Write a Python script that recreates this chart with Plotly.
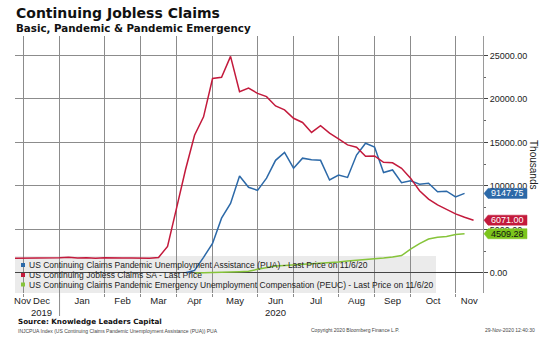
import pandas as pd
import plotly.graph_objects as go

# ---------------- data (thousands) ----------------
start_week = "2019-11-22"      # first weekly point (Friday)
end_week = "2020-11-13"
weeks = pd.date_range(start_week, end_week, freq="7D")

# US Continuing Jobless Claims SA (Nov 22 2019 .. Nov 13 2020)
jobless_sa = [1690, 1700, 1667, 1722, 1728, 1754, 1803, 1731, 1747, 1703, 1751,
              1698, 1726, 1729, 1703, 1702, 1784,
              3059, 7450,
              11900, 15830, 17950, 22350,
              22500, 24900, 20840, 21250, 20650,
              20270, 19200, 18750, 17780,
              17300, 16160, 16930, 16070, 15420,
              14720, 14460, 13420, 13450,
              12720, 12670, 12030, 10900,
              9450, 8500, 7820, 7320, 6800,
              6400, 6071.00]

# PUA (Apr 3 2020 .. Nov 6 2020)
pua_start = "2020-04-03"
pua = [20, 300, 1800, 3400,
       6300, 8000, 11150, 9850, 9500,
       10900, 12950, 13870, 12050,
       13200, 13030, 12950, 10690, 11260,
       10980, 13560, 14910, 14480,
       11550, 11840, 10380, 10610,
       10200, 10310, 9340, 9400, 8740,
       9147.75]

# PEUC (Apr 10 2020 .. Nov 6 2020)
peuc_start = "2020-04-10"
peuc = [10, 20, 50,
        80, 110, 150, 200, 420,
        620, 800, 870, 930,
        1000, 1060, 1130, 1190, 1270,
        1380, 1450, 1540, 1640,
        1720, 1830, 2000, 2750,
        3380, 3900, 4100, 4200, 4430,
        4509.28]

names = ["US Continuing Claims Pandemic Unemployment Assistance (PUA) - Last Price on 11/6/20",
         "US Continuing Jobless Claims SA - Last Price",
         "US Continuing Claims Pandemic Emergency Unemployment Compensation (PEUC) - Last Price on 11/6/20"]
y_ticks = [0, 5000, 10000, 15000, 20000, 25000]

BLUE, RED, GREEN = "#2c69a8", "#c31a3c", "#86c43a"
LBL_GREEN = "#7cc51c"

t0 = pd.Timestamp(start_week)


def week_index(dates):
    return [(pd.Timestamp(d) - t0).days / 7 for d in dates]


x_red = week_index(weeks)
x_pua = week_index(pd.date_range(pua_start, periods=len(pua), freq="7D"))
x_peuc = week_index(pd.date_range(peuc_start, periods=len(peuc), freq="7D"))

# month boundaries: last weekly point of each month
wk = pd.Series(weeks)
last_in_month = wk.groupby([wk.dt.year, wk.dt.month]).max()
bounds = week_index(last_in_month.iloc[:-1])
x_range = [0.05, 52.05]
edges = bounds + [x_range[1]]
label_pos = [bounds[0] - 0.12] + [(edges[i] + edges[i + 1]) / 2 for i in range(len(bounds))]
months = list(pd.Series(last_in_month.values).dt.strftime("%b"))
years = list(pd.Series(last_in_month.values).dt.year)
label_text = []
for i, m in enumerate(months):
    if i == 1 or m == "Jun":
        label_text.append(m + "<br>" + str(years[i]))
    else:
        label_text.append(m)
year_break = [bounds[i] for i in range(len(bounds)) if months[i] == "Dec"][0]

fig = go.Figure()
fig.add_trace(go.Scatter(x=x_pua, y=pua, mode="lines", line=dict(color=BLUE, width=1.5),
                         showlegend=False, hoverinfo="skip"))
fig.add_trace(go.Scatter(x=x_red, y=jobless_sa, mode="lines", line=dict(color=RED, width=1.5),
                         showlegend=False, hoverinfo="skip"))
fig.add_trace(go.Scatter(x=x_peuc, y=peuc, mode="lines", line=dict(color=GREEN, width=1.5),
                         showlegend=False, hoverinfo="skip"))

PLOT_T, PLOT_B, PLOT_L, PLOT_R = 36, 293, 15, 483
PH = PLOT_B - PLOT_T
PW = PLOT_R - PLOT_L


def py(pix):
    return (PLOT_B - pix) / PH


def px(pix):
    return (pix - PLOT_L) / PW


shapes = []
# legend background box (below grid & traces)
shapes.append(dict(type="rect", xref="paper", yref="paper", x0=0, x1=px(436), y0=0, y1=py(256),
                   fillcolor="#ebebeb", line=dict(width=0), layer="below"))
# year separator tick
shapes.append(dict(type="line", xref="x", yref="paper", x0=year_break, x1=year_break,
                   y0=0, y1=py(316), line=dict(color="#8c8c8c", width=1)))

annotations = []
# titles
annotations.append(dict(text="<b>Continuing Jobless Claims</b>", xref="paper", yref="paper",
                        x=px(14), y=py(13), xanchor="left", yanchor="middle", showarrow=False,
                        font=dict(family="DejaVu Sans", size=14, color="#111")))
annotations.append(dict(text="<b>Basic, Pandemic & Pandemic Emergency</b>", xref="paper", yref="paper",
                        x=px(14), y=py(28), xanchor="left", yanchor="middle", showarrow=False,
                        font=dict(family="DejaVu Sans", size=10.3, color="#111")))
# legend rows
legend_rows = [265, 275, 284.5]
for name, col, rowy in zip(names, [BLUE, RED, GREEN], legend_rows):
    shapes.append(dict(type="rect", xref="paper", yref="paper", xsizemode="pixel", ysizemode="pixel",
                       xanchor=0, yanchor=py(rowy), x0=6, x1=10, y0=-2, y1=2,
                       fillcolor=col, line=dict(width=0)))
    annotations.append(dict(text=name, xref="paper", yref="paper", x=px(27), y=py(rowy),
                            xanchor="left", yanchor="middle", showarrow=False,
                            font=dict(family="Liberation Sans", size=8.5, color="#222")))

# last value labels
for val, col, tcol in [(pua[-1], BLUE, "white"), (jobless_sa[-1], RED, "white"),
                       (peuc[-1], LBL_GREEN, "#111")]:
    shapes.append(dict(type="path", xref="paper", yref="y", xsizemode="pixel", ysizemode="pixel",
                       xanchor=1, yanchor=val, path="M 1 0 L 5 5 L 44 5 L 44 -5 L 5 -5 Z",
                       fillcolor=col, line=dict(color=col, width=0.5), layer="above"))
    annotations.append(dict(text="%.2f" % val, xref="paper", yref="y", x=1, y=val, xshift=24,
                            xanchor="center", yanchor="middle", showarrow=False,
                            font=dict(family="Liberation Sans", size=9, color=tcol)))

# axis title
annotations.append(dict(text="Thousands", xref="paper", yref="paper", x=px(534), y=py(164),
                        xanchor="center", yanchor="middle", textangle=90, showarrow=False,
                        font=dict(family="Liberation Sans", size=10, color="#222")))
# footer
annotations.append(dict(text="<b>Source: Knowledge Leaders Capital</b>", xref="paper", yref="paper",
                        x=px(16), y=py(321), xanchor="left", yanchor="middle", showarrow=False,
                        font=dict(family="DejaVu Sans", size=7.2, color="#111")))
annotations.append(dict(text="INJCPUA Index (US Continuing Claims Pandemic Unemployment Assistance (PUA)) PUA",
                        xref="paper", yref="paper", x=px(16), y=py(330.5), xanchor="left",
                        yanchor="middle", showarrow=False,
                        font=dict(family="Liberation Sans", size=5, color="#444")))
annotations.append(dict(text="Copyright 2020 Bloomberg Finance L.P.", xref="paper", yref="paper",
                        x=px(309), y=py(329.5), xanchor="left", yanchor="middle", showarrow=False,
                        font=dict(family="Liberation Sans", size=5, color="#444")))
annotations.append(dict(text="29-Nov-2020 12:40:30", xref="paper", yref="paper",
                        x=px(483), y=py(329.5), xanchor="left", yanchor="middle", showarrow=False,
                        font=dict(family="Liberation Sans", size=5, color="#444")))

fig.update_layout(
    width=554, height=340,
    margin=dict(l=PLOT_L, r=554 - PLOT_R, t=PLOT_T, b=340 - PLOT_B, pad=0),
    paper_bgcolor="white", plot_bgcolor="white",
    showlegend=False,
    shapes=shapes, annotations=annotations,
    xaxis=dict(range=x_range, tickmode="array", tickvals=label_pos, ticktext=label_text,
               tickangle=0, showgrid=False, zeroline=False, ticks="", showline=False,
               tickfont=dict(family="Liberation Sans", size=9.5, color="#222"),
               minor=dict(tickmode="array", tickvals=bounds, ticks="outside", ticklen=3,
                          tickcolor="#8c8c8c", showgrid=True, gridcolor="#8c8c8c", gridwidth=1)),
    yaxis=dict(range=[-2300, 27240], side="right", tickmode="array", tickvals=y_ticks,
               tickformat=".2f", showgrid=True, gridcolor="#8c8c8c", gridwidth=1,
               zeroline=True, zerolinecolor="#444", zerolinewidth=1,
               ticks="outside", ticklen=4, tickcolor="#444",
               showline=True, linecolor="#9a9a9a", linewidth=1,
               tickfont=dict(family="Liberation Sans", size=9, color="#222"),
               minor=dict(dtick=2500, tick0=0, ticks="outside", ticklen=2, tickcolor="#666",
                          showgrid=False)),
)

fig.write_html("out.html")
